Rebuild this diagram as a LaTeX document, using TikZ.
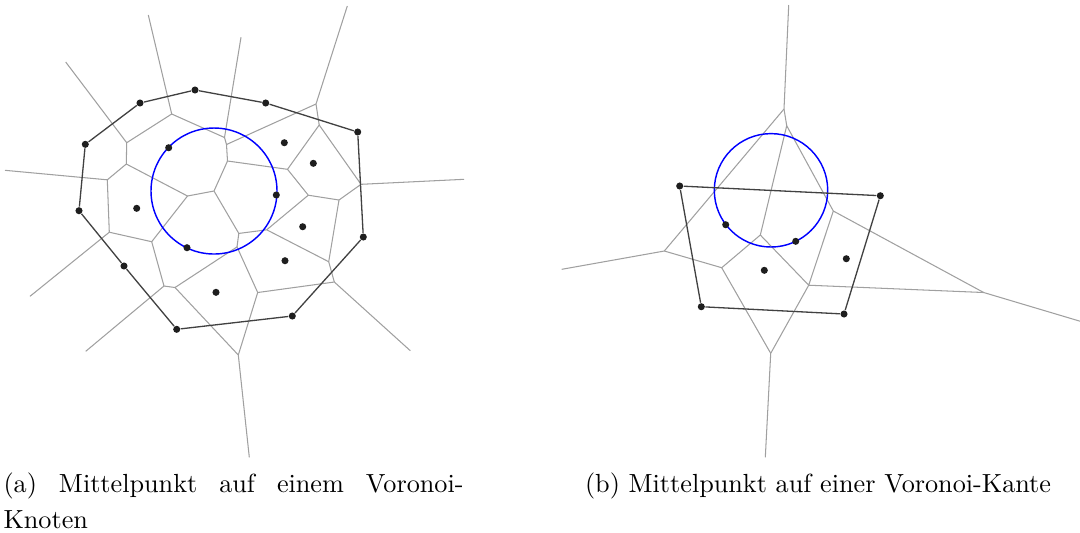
\documentclass[tikz,border=0pt]{standalone}
\definecolor{vorgray}{RGB}{160,160,160}
\definecolor{hullgray}{RGB}{65,65,65}
\definecolor{sitegray}{RGB}{30,30,30}
\usepackage{tikz}

\begin{document}
\begin{tikzpicture}[x=0.3817pt,y=-0.3817pt,
  vor/.style={draw=vorgray,line width=0.4pt},
  hull/.style={draw=hullgray,line width=0.5pt},
  ring/.style={draw=blue,line width=0.55pt},
  site/.style={circle,fill=sitegray,inner sep=0pt,minimum size=2.7pt}]
  \useasboundingbox (0,0) rectangle (1080,532);
  % (a) Voronoi-Knoten
  \coordinate (va1) at (171.7,114.0);
  \coordinate (va2) at (126.7,142.7);
  \coordinate (va3) at (126.3,164.0);
  \coordinate (va4) at (107.3,179.8);
  \coordinate (va5) at (109.3,232.2);
  \coordinate (va6) at (151.7,241.7);
  \coordinate (va7) at (164.0,286.0);
  \coordinate (va8) at (175.0,287.5);
  \coordinate (va9) at (238.3,355.0);
  \coordinate (va10) at (257.7,292.5);
  \coordinate (va11) at (334.3,282.0);
  \coordinate (va12) at (328.7,261.7);
  \coordinate (va13) at (339.0,200.0);
  \coordinate (va14) at (361.0,184.3);
  \coordinate (va15) at (308.3,195.2);
  \coordinate (va16) at (287.5,169.3);
  \coordinate (va17) at (319.2,125.0);
  \coordinate (va18) at (316.0,104.0);
  \coordinate (va19) at (226.5,144.5);
  \coordinate (va20) at (224.5,137.5);
  \coordinate (va21) at (227.5,161.0);
  \coordinate (va22) at (214.0,191.0);
  \coordinate (va23) at (187.5,196.0);
  \coordinate (va24) at (238.8,233.4);
  \coordinate (va25) at (266.7,229.8);
  \coordinate (va26) at (237.0,246.9);
  \coordinate (ra1) at (148.3,15.0);
  \coordinate (ra2) at (65.7,62.0);
  \coordinate (ra3) at (5.0,170.3);
  \coordinate (ra4) at (30.0,296.3);
  \coordinate (ra5) at (85.7,351.3);
  \coordinate (ra6) at (249.3,457.3);
  \coordinate (ra7) at (410.3,350.7);
  \coordinate (ra8) at (464.0,179.3);
  \coordinate (ra9) at (347.3,6.0);
  \coordinate (ra10) at (241.0,37.3);
  \draw[vor] (ra1) -- (va1) -- (va20) -- (ra10);
  \draw[vor] (va1) -- (va2) -- (ra2);
  \draw[vor] (va2) -- (va3) -- (va4) -- (ra3);
  \draw[vor] (va4) -- (va5) -- (ra4);
  \draw[vor] (va5) -- (va6) -- (va7) -- (ra5);
  \draw[vor] (va7) -- (va8) -- (va9) -- (ra6);
  \draw[vor] (va3) -- (va23) -- (va6);
  \draw[vor] (va8) -- (va26) -- (va10) -- (va9);
  \draw[vor] (va10) -- (va11) -- (ra7);
  \draw[vor] (va11) -- (va12) -- (va13) -- (va14) -- (ra8);
  \draw[vor] (va13) -- (va15) -- (va16) -- (va17) -- (va14);
  \draw[vor] (va17) -- (va18) -- (ra9);
  \draw[vor] (va18) -- (va19) -- (va20);
  \draw[vor] (va19) -- (va21) -- (va16);
  \draw[vor] (va21) -- (va22) -- (va23);
  \draw[vor] (va22) -- (va24) -- (va26);
  \draw[vor] (va24) -- (va25) -- (va12);
  \draw[vor] (va25) -- (va15);
  \draw[ring] (va22) circle[radius=63];
  \node[site] (pa1) at (195.0,90.0) {};
  \node[site] (pa2) at (265.7,103.0) {};
  \node[site] (pa3) at (357.7,132.0) {};
  \node[site] (pa4) at (363.3,237.0) {};
  \node[site] (pa5) at (292.3,316.0) {};
  \node[site] (pa6) at (176.7,329.3) {};
  \node[site] (pa7) at (124.0,266.0) {};
  \node[site] (pa8) at (79.0,210.7) {};
  \node[site] (pa9) at (85.3,144.3) {};
  \node[site] (pa10) at (140.0,103.0) {};
  \node[site] (pa11) at (168.7,147.7) {};
  \node[site] (pa12) at (284.3,142.7) {};
  \node[site] (pa13) at (313.3,163.3) {};
  \node[site] (pa14) at (276.3,195.0) {};
  \node[site] (pa15) at (136.7,208.3) {};
  \node[site] (pa16) at (302.7,226.7) {};
  \node[site] (pa17) at (187.0,247.7) {};
  \node[site] (pa18) at (285.0,260.7) {};
  \node[site] (pa19) at (216.0,292.3) {};
  \draw[hull] (pa1) -- (pa2) -- (pa3) -- (pa4) -- (pa5) -- (pa6) -- (pa7)
    -- (pa8) -- (pa9) -- (pa10) -- (pa1);
  % (b) Voronoi-Kante
  \coordinate (vb1) at (784.0,109.0);
  \coordinate (vb2) at (786.7,125.7);
  \coordinate (vb3) at (664.3,251.0);
  \coordinate (vb4) at (721.7,267.7);
  \coordinate (vb5) at (760.3,235.0);
  \coordinate (vb6) at (808.7,285.2);
  \coordinate (vb7) at (833.3,211.0);
  \coordinate (vb8) at (983.7,292.5);
  \coordinate (vb9) at (770.7,353.3);
  \coordinate (rb1) at (788.7,5.0);
  \coordinate (rb2) at (561.7,269.3);
  \coordinate (rb3) at (1080.0,321.2);
  \coordinate (rb4) at (765.3,457.3);
  \coordinate (cb) at (771.0,190.3);
  \draw[vor] (rb1) -- (vb1) -- (vb2) -- (vb5) -- (vb4) -- (vb3) -- (rb2);
  \draw[vor] (vb1) -- (vb3);
  \draw[vor] (vb2) -- (vb7) -- (vb6) -- (vb5);
  \draw[vor] (vb4) -- (vb9) -- (rb4);
  \draw[vor] (vb6) -- (vb9);
  \draw[vor] (vb6) -- (vb8) -- (rb3);
  \draw[vor] (vb7) -- (vb8);
  \draw[ring] (cb) circle[radius=56.7];
  \node[site] (pb1) at (679.7,186.0) {};
  \node[site] (pb2) at (880.3,195.7) {};
  \node[site] (pb3) at (844.0,314.0) {};
  \node[site] (pb4) at (701.3,306.7) {};
  \node[site] (pb5) at (725.7,224.7) {};
  \node[site] (pb6) at (795.7,241.3) {};
  \node[site] (pb7) at (764.3,270.3) {};
  \node[site] (pb8) at (846.3,258.7) {};
  \draw[hull] (pb1) -- (pb2) -- (pb3) -- (pb4) -- (pb1);
  \node[anchor=base west,inner sep=0pt,text width=175.6pt,align=justify,
    font=\fontsize{10}{14}\selectfont] (capa) at (3,492)
    {\tolerance=10000 (a) Mittelpunkt auf einem Voronoi-\linebreak Knoten};
  \node[anchor=base,inner sep=0pt,font=\fontsize{10}{14}\selectfont] (capb)
    at (818,492) {(b) Mittelpunkt auf einer Voronoi-Kante};
\end{tikzpicture}
\end{document}
